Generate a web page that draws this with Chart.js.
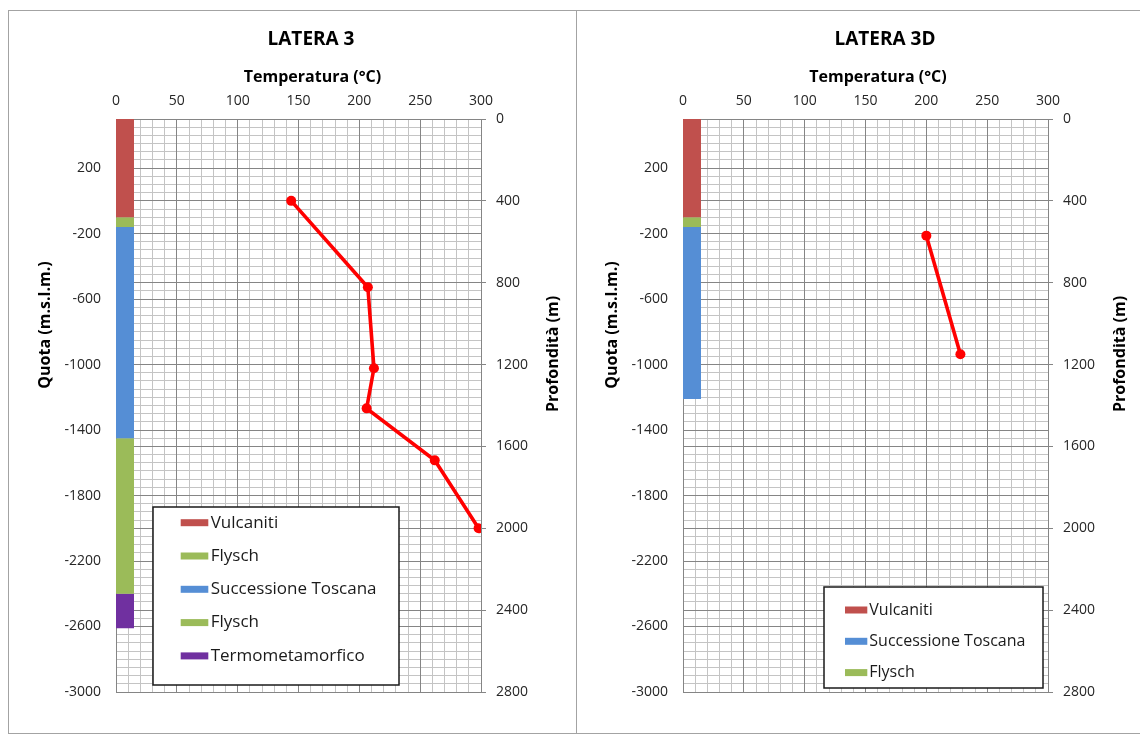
<!DOCTYPE html>
<html>
<head>
<meta charset="utf-8">
<script src="https://cdn.jsdelivr.net/npm/chart.js@4.4.1/dist/chart.umd.min.js"></script>
<style>
  html, body { margin: 0; padding: 0; background: #fff; width: 1140px; height: 738px; overflow: hidden; }
  .panel { position: absolute; top: 10px; height: 724px; border: 1px solid #a3a3a3; box-sizing: border-box; overflow: hidden; background: #fff; }
  #panelL { left: 8px; width: 569px; }
  #panelR { left: 576px; width: 580px; }
  .panel canvas { position: absolute; left: 0; top: 0; }
</style>
</head>
<body>
<div class="panel" id="panelL"><canvas id="chartL" width="566" height="722"></canvas></div>
<div class="panel" id="panelR"><canvas id="chartR" width="566" height="722"></canvas></div>
<script>
// ---- Axis ticks ----
const TEMP_TICKS  = [0, 50, 100, 150, 200, 250, 300];
const QUOTA_TICKS = [-3000, -2600, -2200, -1800, -1400, -1000, -600, -200, 200];
const DEPTH_TICKS = [0, 400, 800, 1200, 1600, 2000, 2400, 2800];
const TEMP_RANGE  = [0, 300];
const QUOTA_RANGE = [-3000, 500];
const DEPTH_RANGE = [0, 2800];

// ---- Latera 3: temperature log (°C) vs depth (m) ----
const L3_TEMP  = [144, 207, 212, 206, 262, 298];
const L3_DEPTH = [400, 822, 1218, 1414, 1668, 2000];

// ---- Latera 3: stratigraphic column (elevation m s.l.m.) ----
const L3_UNITS = ['Vulcaniti', 'Flysch', 'Successione Toscana', 'Flysch', 'Termometamorfico'];
const L3_TOPS  = [500, -100, -160, -1450, -2400];
const L3_BASES = [-100, -160, -1450, -2400, -2610];

// ---- Latera 3D: temperature log (°C) vs depth (m) ----
const L3D_TEMP  = [200, 228];
const L3D_DEPTH = [570, 1150];

// ---- Latera 3D: stratigraphic column (elevation m s.l.m.) ----
const L3D_UNITS = ['Vulcaniti', 'Successione Toscana', 'Flysch'];
const L3D_TOPS  = [500, -160, -100];
const L3D_BASES = [-100, -1210, -160];

// ---- Styling ----
const UNIT_COLORS = {
  'Vulcaniti': '#c0504d',
  'Flysch': '#9bbb59',
  'Successione Toscana': '#558ed5',
  'Termometamorfico': '#7030a0'
};
const LOG_COLOR = '#ff0000';
const GRID_MAJOR = '#858585';
const GRID_MINOR = '#c4c4c4';
const FONT = 'Open Sans';
const TEXT = '#262626';
const COLUMN_T = 7.4;        // temperature position of the lithology column
const COLUMN_WIDTH = 18;     // px

function fixedTicks(values) {
  return scale => { scale.ticks = values.map(v => ({ value: v })); };
}
function stepValues(min, max, step) {
  const out = [];
  for (let v = min; v <= max + 1e-9; v += step) out.push(v);
  return out;
}
const plainNumber = value => String(value);

// Titles drawn around the plot area (offsets from chartArea top-left)
const panelText = {
  id: 'panelText',
  afterDraw(chart, args, opts) {
    const { ctx, chartArea: a } = chart;
    for (const t of opts.items) {
      ctx.save();
      ctx.font = `${t.weight || 'normal'} ${t.size}px "${FONT}"`;
      ctx.fillStyle = t.color || '#000';
      ctx.textAlign = 'center';
      ctx.textBaseline = 'middle';
      ctx.translate(a.left + t.dx, a.top + t.dy);
      if (t.rotate) ctx.rotate(t.rotate);
      ctx.fillText(t.text, 0, 0);
      ctx.restore();
    }
  }
};

// Boxed legend of the lithology column, placed inside the plot area
const strataLegend = {
  id: 'strataLegend',
  afterDraw(chart, args, o) {
    const { ctx, chartArea: a } = chart;
    const items = chart.data.datasets.filter(d => d.inLegend);
    const x = a.left + o.x, y = a.top + o.y;
    ctx.save();
    ctx.fillStyle = '#fff';
    ctx.fillRect(x, y, o.w, o.h);
    ctx.lineWidth = 1.5;
    ctx.strokeStyle = '#1a1a1a';
    ctx.strokeRect(x, y, o.w, o.h);
    ctx.font = `${o.size}px "${FONT}"`;
    ctx.textBaseline = 'middle';
    ctx.textAlign = 'left';
    items.forEach((d, i) => {
      const cy = y + o.first + i * o.gap;
      ctx.fillStyle = d.borderColor;
      ctx.fillRect(x + o.swatchX, cy - o.swatchH / 2, o.swatchW, o.swatchH);
      ctx.fillStyle = '#1a1a1a';
      ctx.fillText(d.label, x + o.textX, cy);
    });
    ctx.restore();
  }
};

function buildChart(canvasId, spec) {
  const area = spec.area;
  const strata = spec.units.map((name, i) => ({
    label: name,
    data: [{ x: COLUMN_T, y: spec.tops[i] }, { x: COLUMN_T, y: spec.bases[i] }],
    borderColor: UNIT_COLORS[name],
    backgroundColor: UNIT_COLORS[name],
    borderWidth: COLUMN_WIDTH,
    borderCapStyle: 'butt',
    pointRadius: 0,
    pointHoverRadius: 0,
    xAxisID: 'x',
    yAxisID: 'y',
    inLegend: true,
    order: 2
  }));
  const log = {
    label: 'Temperatura',
    data: spec.temp.map((t, i) => ({ x: t, y: spec.depth[i] })),
    borderColor: LOG_COLOR,
    backgroundColor: LOG_COLOR,
    pointBackgroundColor: LOG_COLOR,
    pointBorderColor: LOG_COLOR,
    borderWidth: 3.6,
    pointRadius: 5,
    pointBorderWidth: 0,
    xAxisID: 'x',
    yAxisID: 'y2',
    order: 0
  };
  const tickFont = { family: FONT, size: 14 };
  const half = -Math.PI / 2;
  return new Chart(document.getElementById(canvasId), {
    type: 'line',
    data: { datasets: [...strata, log] },
    plugins: [panelText, strataLegend],
    options: {
      responsive: false,
      animation: false,
      devicePixelRatio: 1,
      events: [],
      layout: { padding: { left: 0, right: 0, top: 0, bottom: 722 - area.bottom } },
      plugins: {
        legend: { display: false },
        tooltip: { enabled: false },
        title: { display: false },
        panelText: {
          items: [
            { text: spec.title, size: 19, weight: 'bold', dx: spec.titleDx, dy: -79 },
            { text: 'Temperatura (°C)', size: 16, weight: 'bold', dx: spec.xTitleDx, dy: -42 },
            { text: 'Quota (m.s.l.m.)', size: 16, weight: 'bold', dx: -71, dy: 206, rotate: half },
            { text: 'Profondità (m)', size: 16, weight: 'bold', dx: 437, dy: 235, rotate: half }
          ]
        },
        strataLegend: spec.legend
      },
      scales: {
        xMinor: {
          type: 'linear', position: 'top', min: TEMP_RANGE[0], max: TEMP_RANGE[1],
          afterBuildTicks: fixedTicks(stepValues(TEMP_RANGE[0], TEMP_RANGE[1], 10)),
          ticks: { display: false },
          grid: { color: GRID_MINOR, drawTicks: false },
          border: { display: false },
          afterFit: s => { s.height = 0; }
        },
        yMinor: {
          type: 'linear', position: 'left', min: QUOTA_RANGE[0], max: QUOTA_RANGE[1],
          afterBuildTicks: fixedTicks(stepValues(QUOTA_RANGE[0], QUOTA_RANGE[1], 50)),
          ticks: { display: false },
          grid: { color: GRID_MINOR, drawTicks: false },
          border: { display: false },
          afterFit: s => { s.width = 0; }
        },
        x: {
          type: 'linear', position: 'top', min: TEMP_RANGE[0], max: TEMP_RANGE[1],
          afterBuildTicks: fixedTicks(TEMP_TICKS),
          ticks: { font: tickFont, color: TEXT, padding: 10, autoSkip: false, maxRotation: 0, callback: plainNumber },
          grid: { color: GRID_MAJOR, drawTicks: false },
          border: { display: false },
          afterFit: s => { s.height = area.top; }
        },
        y: {
          type: 'linear', position: 'left', min: QUOTA_RANGE[0], max: QUOTA_RANGE[1],
          afterBuildTicks: fixedTicks(QUOTA_TICKS),
          ticks: { font: tickFont, color: TEXT, padding: 15, autoSkip: false, callback: plainNumber },
          grid: { color: GRID_MAJOR, drawTicks: false },
          border: { display: false },
          afterFit: s => { s.width = area.left; }
        },
        y2: {
          type: 'linear', position: 'right', reverse: true, min: DEPTH_RANGE[0], max: DEPTH_RANGE[1],
          afterBuildTicks: fixedTicks(DEPTH_TICKS),
          ticks: { font: tickFont, color: TEXT, padding: 10, autoSkip: false, callback: plainNumber },
          grid: { color: GRID_MAJOR, drawTicks: true, tickLength: 5 },
          border: { display: true, color: GRID_MAJOR },
          afterFit: s => { s.width = s.chart.width - area.right; }
        }
      }
    }
  });
}

buildChart('chartL', {
  title: 'LATERA 3', titleDx: 195, xTitleDx: 196.5,
  area: { left: 107, top: 108, right: 472, bottom: 681 },
  units: L3_UNITS, tops: L3_TOPS, bases: L3_BASES,
  temp: L3_TEMP, depth: L3_DEPTH,
  legend: { x: 37, y: 388, w: 246, h: 178, first: 15.7, gap: 33.3, swatchX: 27.7, swatchW: 27.6, swatchH: 7, textX: 57.7, size: 17 }
});

buildChart('chartR', {
  title: 'LATERA 3D', titleDx: 202, xTitleDx: 195,
  area: { left: 106, top: 108, right: 471, bottom: 681 },
  units: L3D_UNITS, tops: L3D_TOPS, bases: L3D_BASES,
  temp: L3D_TEMP, depth: L3D_DEPTH,
  legend: { x: 141, y: 468, w: 219, h: 101, first: 23, gap: 31.3, swatchX: 21, swatchW: 22.3, swatchH: 7, textX: 45.3, size: 16 }
});
</script>
</body>
</html>
